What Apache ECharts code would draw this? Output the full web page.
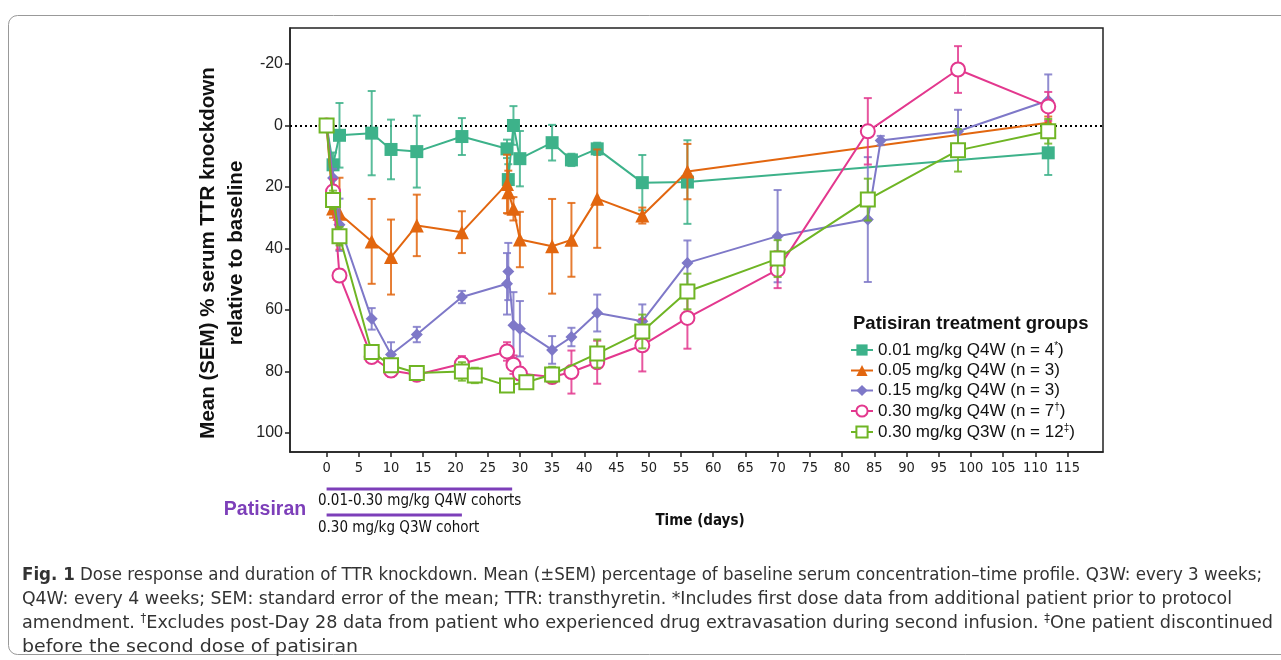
<!DOCTYPE html>
<html><head><meta charset="utf-8">
<script src="https://cdn.jsdelivr.net/npm/echarts@6.0.0/dist/echarts.min.js"></script>
<style>html,body{margin:0;padding:0;background:#fff}#c{width:1281px;height:660px}</style>
</head><body><div id="c"></div>
<script>
// ---------- data ----------
const xTicks = [0,5,10,15,20,25,30,35,40,45,50,55,60,65,70,75,80,85,90,95,100,105,110,115];
const yTicks = [-20,0,20,40,60,80,100];

const groupNames = ['g001','g005','g015','g030q4','g030q3'];
const groupLabels = [
  ['0.01 mg/kg Q4W (n = 4', '*', ')'],
  ['0.05 mg/kg Q4W (n = 3)', '', ''],
  ['0.15 mg/kg Q4W (n = 3)', '', ''],
  ['0.30 mg/kg Q4W (n = 7', '†', ')'],
  ['0.30 mg/kg Q3W (n = 12', '‡', ')']
];

const tealDays = [0, 1, 2, 7, 10, 14, 21, 28, 28.2, 29, 30, 35, 38, 42, 49, 56, 112];
const tealVals = [0, 12.8, 3.2, 2.5, 7.8, 8.5, 3.6, 7.6, 17.6, 0, 10.8, 5.6, 11.2, 7.6, 18.6, 18.4, 8.9];
const tealErr  = [0, 4, 10.5, 13.7, 9.7, 11.7, 6, 3, 5, 6.3, 9, 5.8, 2, 2, 9, 13.6, 7.2];

const orangeDays = [0, 1, 2, 7, 10, 14, 21, 28, 28.2, 29, 30, 35, 38, 42, 49, 56, 112];
const orangeVals = [0, 27, 28.7, 37.7, 42.8, 32.5, 34.7, 19, 21.7, 27.1, 37.1, 39.3, 37.2, 23.8, 29.3, 15, -0.9];
const orangeErr  = [0, 3, 11.7, 13.8, 12.2, 10, 6.8, 9.5, 7, 3.8, 9, 15.4, 12, 16, 2.6, 9, 2];

const purpleDays = [0, 1, 2, 7, 10, 14, 21, 28, 28.2, 29, 30, 35, 38, 42, 49, 56, 70, 84, 86, 98, 112];
const purpleVals = [0, 17.1, 32.3, 62.9, 74.5, 68, 55.8, 51.5, 47.5, 65, 66.1, 73, 68.8, 61, 63.7, 44.7, 36, 30.6, 4.9, 1.9, -8.1];
const purpleErr  = [0, 3, 8.5, 3.5, 4, 2.5, 2, 10, 9.3, 10.8, 9, 4.5, 3, 6, 5.5, 7.3, 15, 20.3, 1.5, 7, 8.5];

const pinkDays = [0, 1, 2, 7, 10, 14, 21, 28, 29, 30, 35, 38, 42, 49, 56, 70, 84, 98, 112];
const pinkVals = [0, 21.5, 48.8, 75.3, 79.7, 81.1, 77.5, 73.5, 77.8, 80.7, 81.8, 80.2, 77, 71.5, 62.6, 46.9, 1.9, -18.2, -6.2];
const pinkErr  = [0, 4, 2, 1.5, 2, 1.5, 2.5, 3, 3, 2, 2, 7, 7, 8.5, 10, 6, 10.8, 7.6, 4.7];

const greenDays = [0, 1, 2, 7, 10, 14, 21, 23, 28, 31, 35, 42, 49, 56, 70, 84, 98, 112];
const greenVals = [0, 24.2, 36, 73.7, 78, 80.5, 80, 81.3, 84.6, 83.5, 81, 74.2, 67, 54, 43.3, 24.1, 8.1, 1.9];
const greenErr  = [0, 3, 3, 1.5, 1.5, 1.5, 3, 2.5, 2, 2, 2.5, 4.6, 5.5, 5.8, 6, 6.8, 6.9, 4];

const dosingRanges = [[0, 28.8], [0, 21]];
const dosingLabels = ['0.01\u20110.30 mg/kg Q4W cohorts', '0.30 mg/kg Q3W cohort'];

// ---------- styling ----------
const COLORS = ['#3DB28A', '#E2660F', '#7E78C8', '#E3388E', '#6FB524'];
const SYMBOLS = ['rect', 'triangle', 'diamond', 'circle', 'rect'];
const SIZES = [13, 14, 12, 14, 14];
const HOLLOW = [false, false, false, true, true];
const FONT = "'Liberation Sans', Arial, Helvetica, sans-serif";
const NARROW = "'Liberation Sans Narrow', 'Arial Narrow', 'DejaVu Sans Condensed', sans-serif";

const groups = [
  [tealDays, tealVals, tealErr],
  [orangeDays, orangeVals, orangeErr],
  [purpleDays, purpleVals, purpleErr],
  [pinkDays, pinkVals, pinkErr],
  [greenDays, greenVals, greenErr]
];

const series = [];
groups.forEach((g, k) => {
  const [days, vals, errs] = g;
  const color = COLORS[k];
  const errData = [];
  days.forEach((d, i) => { if (errs[i] > 0) errData.push([d, vals[i] - errs[i], vals[i] + errs[i]]); });
  series.push({
    type: 'custom', name: 'err' + k, silent: true, z: 2 + k * 2,
    data: errData,
    encode: { x: 0, y: [1, 2] },
    renderItem: (params, api) => {
      const x = api.value(0);
      const p1 = api.coord([x, api.value(1)]);
      const p2 = api.coord([x, api.value(2)]);
      const w = 4;
      const st = { stroke: color, lineWidth: 2, opacity: 0.85 };
      return { type: 'group', children: [
        { type: 'line', shape: { x1: p1[0], y1: p1[1], x2: p2[0], y2: p2[1] }, style: st },
        { type: 'line', shape: { x1: p1[0] - w, y1: p1[1], x2: p1[0] + w, y2: p1[1] }, style: st },
        { type: 'line', shape: { x1: p2[0] - w, y1: p2[1], x2: p2[0] + w, y2: p2[1] }, style: st }
      ]};
    }
  });
  const s = {
    type: 'line', name: groupNames[k], z: 3 + k * 2,
    data: days.map((d, i) => [d, vals[i]]),
    symbol: SYMBOLS[k], symbolSize: SIZES[k], showAllSymbol: true,
    lineStyle: { color: color, width: 2 },
    itemStyle: HOLLOW[k] ? { color: '#fff', borderColor: color, borderWidth: 2 } : { color: color, borderColor: color, borderWidth: 0 },
    emphasis: { disabled: true },
    animation: false
  };
  if (k === 0) {
    s.markLine = { silent: true, symbol: 'none', label: { show: false }, z: 1,
      lineStyle: { type: [2, 3], color: '#000', width: 2 }, data: [{ yAxis: 0 }] };
  }
  series.push(s);
});

// dosing bars below the axis
series.push({
  type: 'custom', name: 'dosing', silent: true, clip: false, z: 20,
  data: dosingRanges,
  encode: { x: [0, 1] },
  renderItem: (params, api) => {
    const offs = [37, 63];
    const a = api.coord([api.value(0), 0]);
    const b = api.coord([api.value(1), 0]);
    const base = params.coordSys.y + params.coordSys.height;
    const y = base + offs[params.dataIndex];
    return { type: 'line', shape: { x1: a[0], y1: y, x2: b[0], y2: y }, style: { stroke: '#7D3FB9', lineWidth: 3 } };
  }
});

const legendMap = {};
groupNames.forEach((n, i) => legendMap[n] = groupLabels[i]);

const capLines = [
  '{b|Fig. 1} Dose response and duration of TTR knockdown. Mean (±SEM) percentage of baseline serum concentration–time profile. Q3W: every 3 weeks;',
  'Q4W: every 4 weeks; SEM: standard error of the mean; TTR: transthyretin. *Includes first dose data from additional patient prior to protocol',
  'amendment. {s|†}Excludes post-Day 28 data from patient who experienced drug extravasation during second infusion. {s|‡}One patient discontinued',
  'before the second dose of patisiran'
];
const capY = [575, 599, 623, 647];
const capWidths = [1240, 1210, 1251, 336];
const CAPF = 18.5;

// measure caption widths to fit the reference line lengths
const mctx = document.createElement('canvas').getContext('2d');
function measure(t) {
  const parts = t.split(/(\{[bs]\|[^}]*\})/);
  let w = 0;
  parts.forEach(p => {
    const m = p.match(/^\{([bs])\|([^}]*)\}$/);
    if (m) {
      mctx.font = (m[1] === 'b' ? 'bold ' + CAPF : '12') + 'px ' + NARROW;
      w += mctx.measureText(m[2]).width;
    } else if (p) {
      mctx.font = CAPF + 'px ' + NARROW;
      w += mctx.measureText(p).width;
    }
  });
  return w;
}

const graphics = [
  { type: 'rect', shape: { x: 8.5, y: 15.5, width: 1300, height: 639, r: 9 }, style: { fill: 'none', stroke: '#999', lineWidth: 1 }, silent: true, z: -1 },
  { type: 'text', x: 222, y: 253, rotation: Math.PI / 2, silent: true,
    style: { text: 'Mean (SEM) % serum TTR knockdown\nrelative to baseline', font: "bold 20.5px " + FONT, fill: '#111', align: 'center', verticalAlign: 'middle', lineHeight: 28 } },
  { type: 'text', x: 265, y: 510, silent: true,
    style: { text: 'Patisiran', font: "bold 19.5px " + FONT, fill: '#7D3FB9', align: 'center', verticalAlign: 'middle' } },
  { type: 'text', x: 318, y: 501, silent: true,
    style: { text: dosingLabels[0], font: "15px " + NARROW, fill: '#111', align: 'left', verticalAlign: 'middle' } },
  { type: 'text', x: 318, y: 528, silent: true,
    style: { text: dosingLabels[1], font: "15px " + NARROW, fill: '#111', align: 'left', verticalAlign: 'middle' } },
  { type: 'text', x: 700, y: 521, silent: true,
    style: { text: 'Time (days)', font: "bold 15px " + NARROW, fill: '#111', align: 'center', verticalAlign: 'middle' } }
];
capLines.forEach((t, i) => {
  const w = measure(t);
  const sx = w > 0 ? capWidths[i] / w : 1;
  graphics.push({ type: 'text', x: 22, y: capY[i], scaleX: sx, silent: true,
    style: { text: t, font: CAPF + "px " + NARROW, fill: '#333', align: 'left', verticalAlign: 'middle',
      rich: { b: { font: "bold " + CAPF + "px " + NARROW, fill: '#333' }, s: { font: "12px " + NARROW, fill: '#333', padding: [0, 0, 9, 0] } } } });
});

const chart = echarts.init(document.getElementById('c'), null, { renderer: 'canvas' });
chart.setOption({
  animation: false,
  backgroundColor: '#fff',
  grid: { left: 290, top: 28, width: 813, height: 424, show: true, borderColor: '#222', borderWidth: 1.5, containLabel: false },
  title: { text: 'Patisiran treatment groups', left: 853, top: 314, padding: 0, textStyle: { fontFamily: FONT, fontWeight: 'bold', fontSize: 18.5, color: '#111' } },
  legend: {
    orient: 'vertical', left: 850, top: 341, padding: 0, itemWidth: 22, itemHeight: 14, itemGap: 3,
    data: groupNames, selectedMode: false,
    formatter: n => { const l = legendMap[n]; return '{t|' + l[0] + '}' + (l[1] ? '{s|' + l[1] + '}{t|' + l[2] + '}' : ''); },
    textStyle: { fontFamily: FONT, fontSize: 17, color: '#111', lineHeight: 17,
      rich: { t: { fontFamily: FONT, fontSize: 17, color: '#111', lineHeight: 17 }, s: { fontFamily: FONT, fontSize: 10, color: '#111', lineHeight: 17, padding: [0, 0, 8, 0] } } }
  },
  xAxis: {
    type: 'value', min: -5.68, max: 120.5,
    axisLine: { show: true, onZero: false, lineStyle: { color: '#222', width: 1.5 } },
    axisTick: { show: true, customValues: xTicks, length: 5, lineStyle: { color: '#222', width: 1.5 } },
    axisLabel: { customValues: xTicks, margin: 9, fontFamily: NARROW, fontSize: 14.5, color: '#222' },
    splitLine: { show: false }
  },
  yAxis: {
    type: 'value', inverse: true, min: -31.7, max: 106.2,
    axisLine: { show: true, onZero: false, lineStyle: { color: '#222', width: 1.5 } },
    axisTick: { show: true, customValues: yTicks, length: 5, lineStyle: { color: '#222', width: 1.5 } },
    axisLabel: { customValues: yTicks, margin: 7, fontFamily: FONT, fontSize: 16, color: '#222' },
    splitLine: { show: false }
  },
  series: series,
  graphic: graphics
});
</script></body></html>
